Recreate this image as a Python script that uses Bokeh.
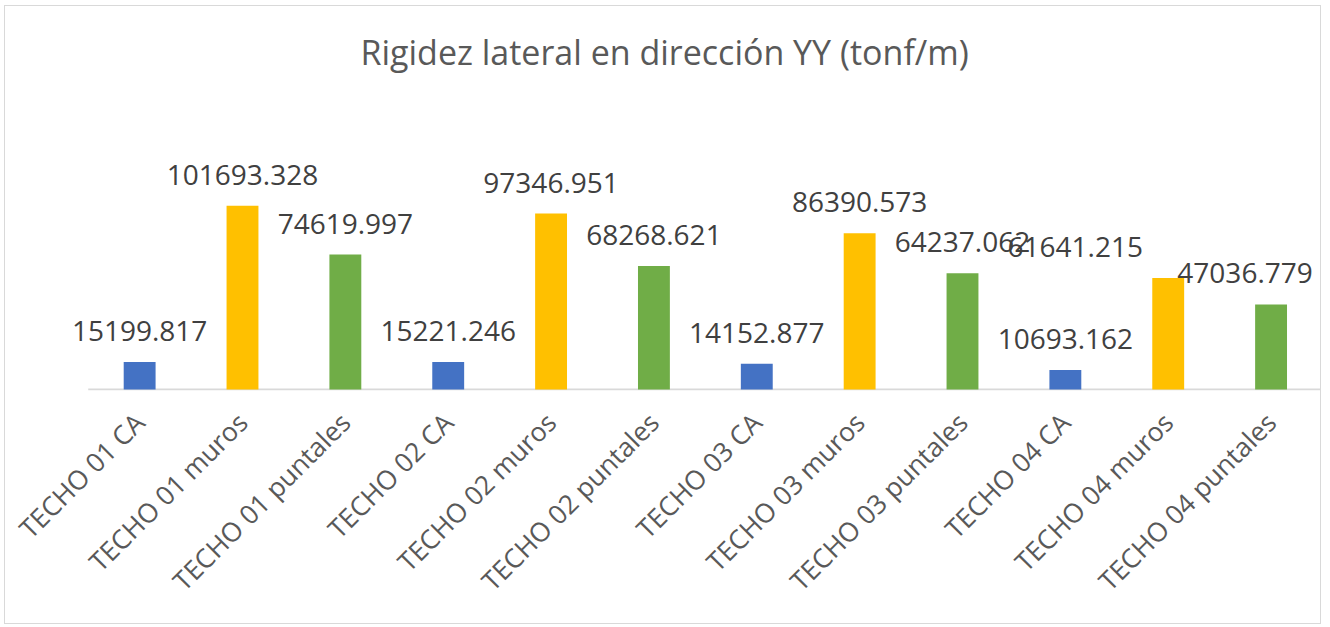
from math import pi
from bokeh.plotting import figure
from bokeh.models import ColumnDataSource, LabelSet, Range1d, FixedTicker, Title
from bokeh.core.properties import value
from bokeh.embed import file_html
from bokeh.resources import INLINE

# ---- data ----
categories = ["TECHO 01 CA", "TECHO 01 muros", "TECHO 01 puntales",
              "TECHO 02 CA", "TECHO 02 muros", "TECHO 02 puntales",
              "TECHO 03 CA", "TECHO 03 muros", "TECHO 03 puntales",
              "TECHO 04 CA", "TECHO 04 muros", "TECHO 04 puntales"]
values = [15199.817, 101693.328, 74619.997,
          15221.246, 97346.951, 68268.621,
          14152.877, 86390.573, 64237.062,
          10693.162, 61641.215, 47036.779]
kinds = ["CA", "muros", "puntales"] * 4

# ---- styling ----
kind_colors = {"CA": "#4472C4", "muros": "#FFC000", "puntales": "#70AD47"}
label_dx = [0, 0, 0, 0, 0, 0, 0, 0, 0, 0, -93, -26]  # manual label nudges (px)

FONT = "Open Sans"
n = len(categories)
xs = list(range(n))

src = ColumnDataSource(dict(
    x=xs,
    val=values,
    color=[kind_colors[k] for k in kinds],
    txt=["%.3f" % v for v in values],
    dx=label_dx,
))

p = figure(x_range=Range1d(-0.75, n - 0.5),
           y_range=Range1d(-600, 140000),
           width=1317, height=619,
           output_backend="svg", toolbar_location=None,
           min_border_left=57, min_border_right=0,
           min_border_top=130, min_border_bottom=235)

# category baseline (axis line) spanning the category slots
p.segment(x0=[-0.5], x1=[n - 0.5], y0=[0], y1=[0], line_color="#D9D9D9", line_width=2)

p.vbar(x="x", top="val", width=0.31, color="color", source=src, line_color=None)

labels = LabelSet(x="x", y="val", text="txt", source=src,
                  x_offset="dx", y_offset=21,
                  text_align="center", text_baseline="alphabetic",
                  text_font=value(FONT), text_font_size="28px", text_color="#404040")
p.add_layout(labels)

p.title.text = "Rigidez lateral en dirección YY (tonf/m)"
p.title.align = "left"
p.title.offset = 298
p.title.text_font = FONT
p.title.text_font_size = "34px"
p.title.text_font_style = "normal"
p.title.text_color = "#595959"
p.title.standoff = 10

# empty spacer between title and plot area
p.add_layout(Title(text=" ", text_font_size="10px", standoff=44), "above")

p.yaxis.visible = False
p.xgrid.grid_line_color = None
p.ygrid.grid_line_color = None
p.outline_line_color = None

ax = p.xaxis[0]
ax.ticker = FixedTicker(ticks=xs)
ax.major_label_overrides = {i: c for i, c in zip(xs, categories)}
ax.axis_line_color = None
ax.major_tick_line_color = None
ax.minor_tick_line_color = None
ax.major_tick_out = 0
ax.major_tick_in = 0
ax.minor_tick_out = 0
ax.major_label_orientation = pi / 4
ax.major_label_text_font = FONT
ax.major_label_text_font_size = "26.5px"
ax.major_label_text_color = "#595959"
ax.major_label_standoff = 27

p.styles = {"border": "1px solid #D9D9D9", "margin-left": "4px", "margin-top": "5px"}

open("out.html", "w").write(file_html(p, INLINE))
